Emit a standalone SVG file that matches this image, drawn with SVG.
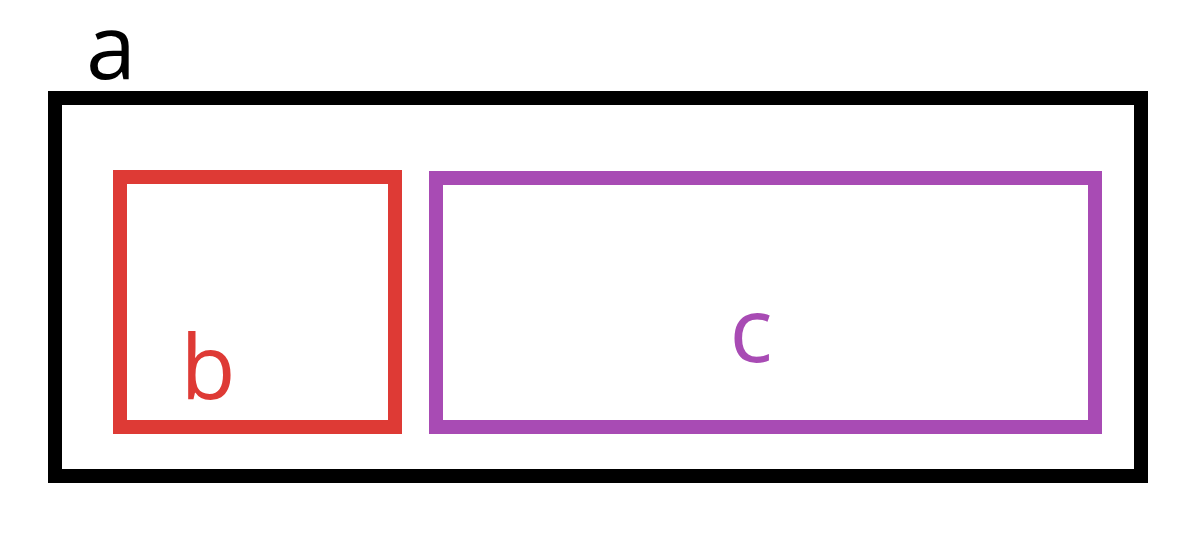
<svg xmlns="http://www.w3.org/2000/svg" width="1198" height="550" viewBox="0 0 1198 550">
<style>
.box{fill:none;stroke-width:14}
.lbl{font-family:"Open Sans","Noto Sans",sans-serif;font-size:90px;text-anchor:middle}
</style>
<rect width="1198" height="550" fill="#ffffff"/>
<g id="a">
<rect class="box" x="55" y="98" width="1086" height="378" stroke="#000000"/>
<text class="lbl" x="111" y="79" fill="#000000">a</text>
</g>
<g id="b">
<rect class="box" x="120" y="177" width="275" height="250" stroke="#DE3A35"/>
<text class="lbl" x="208" y="399" fill="#DE3A35">b</text>
</g>
<g id="c">
<rect class="box" x="436" y="178" width="659" height="249" stroke="#A84BB4"/>
<text class="lbl" x="751" y="362" fill="#A84BB4">c</text>
</g>
<g id="connectors"/>
</svg>
